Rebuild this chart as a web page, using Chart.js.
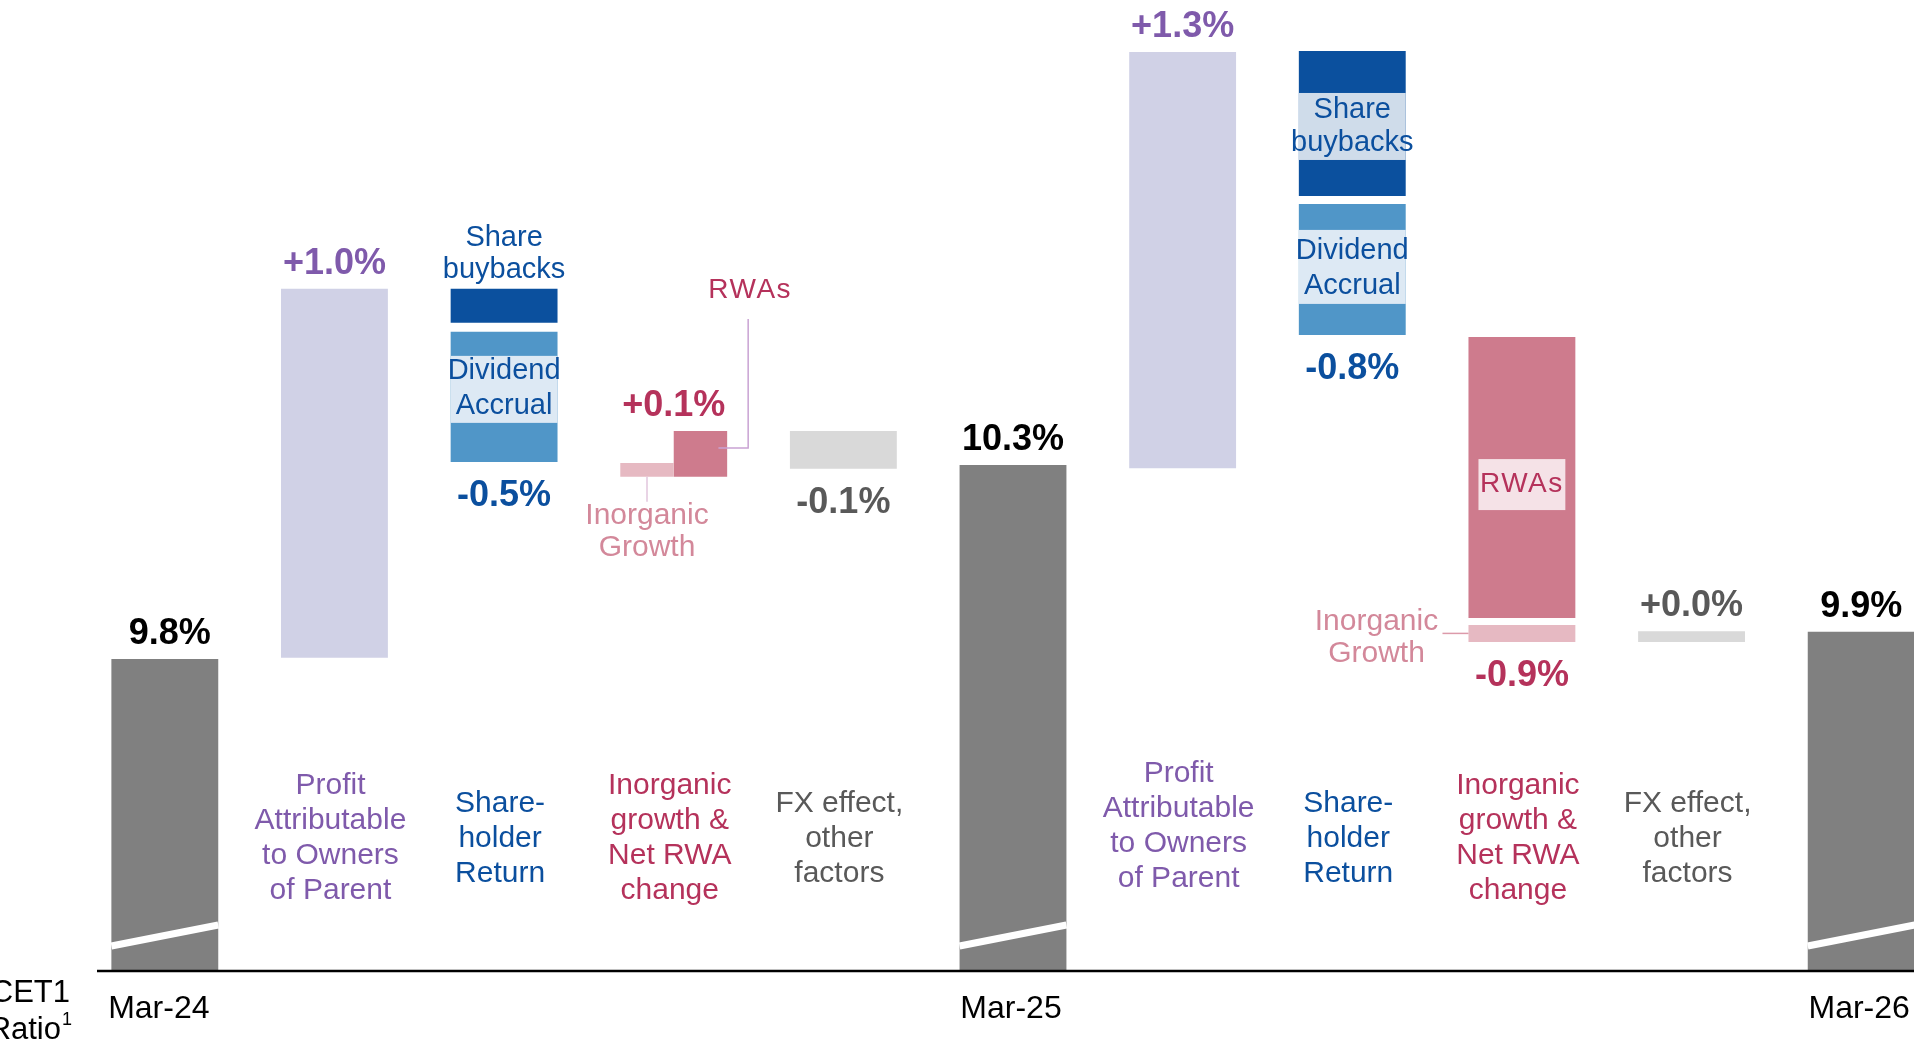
<!DOCTYPE html>
<html>
<head>
<meta charset="utf-8">
<title>CET1 Ratio walk</title>
<script src="https://cdn.jsdelivr.net/npm/chart.js@4.4.1/dist/chart.umd.min.js"></script>
<style>
  html, body { margin: 0; padding: 0; background: #fff; overflow: hidden; }
  #wrap { position: relative; width: 1946px; height: 1044px; }
</style>
</head>
<body>
<div id="wrap"><canvas id="cet1-chart"></canvas></div>
<script>
// CET1 ratio waterfall Mar-24 -> Mar-25 -> Mar-26 (axis is broken, floor 8.9%)

const categories = ['Mar-24', 'Profit FY25', 'Shareholder FY25', 'RWA FY25', 'FX FY25',
                    'Mar-25', 'Profit FY26', 'Shareholder FY26', 'RWA FY26', 'FX FY26', 'Mar-26'];
const periodLabels = ['Mar-24', '', '', '', '', 'Mar-25', '', '', '', '', 'Mar-26'];
const changeLabels = ['9.8%', '+1.0%', '-0.5%', '+0.1%', '-0.1%', '10.3%', '+1.3%', '-0.8%', '-0.9%', '+0.0%', '9.9%'];
const stepNames = [
    [], ['Profit', 'Attributable', 'to Owners', 'of Parent'], ['Share-', 'holder', 'Return'],
    ['Inorganic', 'growth &', 'Net RWA', 'change'], ['FX effect,', 'other', 'factors'],
    [], ['Profit', 'Attributable', 'to Owners', 'of Parent'], ['Share-', 'holder', 'Return'],
    ['Inorganic', 'growth &', 'Net RWA', 'change'], ['FX effect,', 'other', 'factors'], []
];

const AXIS_FLOOR = 8.9;
const ratioBars       = [[AXIS_FLOOR, 9.80], null, null, null, null, [AXIS_FLOOR, 10.359], null, null, null, null, [AXIS_FLOOR, 9.878]];
const profitBars      = [null, [9.803, 10.867], null, null, null, null, [10.350, 11.550], null, null, null, null];
const buybackBars     = [null, null, [10.769, 10.867], null, null, null, null, [11.135, 11.553], null, null, null];
const dividendBars    = [null, null, [10.368, 10.743], null, null, null, null, [10.734, 11.112], null, null, null];
const inorganicBars25 = [null, null, null, [10.325, 10.365], null, null, null, null, null, null, null];
const rwaBars25       = [null, null, null, [10.325, 10.457], null, null, null, null, null, null, null];
const rwaBars26       = [null, null, null, null, null, null, null, null, [9.918, 10.728], null, null];
const inorganicBars26 = [null, null, null, null, null, null, null, null, [9.849, 9.898], null, null];
const fxBars          = [null, null, null, null, [10.348, 10.457], null, null, null, null, [9.849, 9.880], null];

const fontFace = "'Liberation Sans', Arial, sans-serif";
const PURPLE = '#7f5aab';
const BLUE = '#0b4f9e';
const CRIMSON = '#b5325b';
const PINK_TEXT = '#d3889a';
const GREY_TEXT = '#595959';

function bars(label, data, color, stack) {
    return { label, data, backgroundColor: color, stack, borderWidth: 0, skipNull: true,
             categoryPercentage: 0.63, barPercentage: 1.0 };
}

function drawText(ctx, str, x, y, size, color, bold, align, spacing) {
    ctx.font = (bold ? 'bold ' : '') + size + 'px ' + fontFace;
    ctx.fillStyle = color;
    ctx.textAlign = align || 'center';
    ctx.textBaseline = 'middle';
    ctx.letterSpacing = spacing || '0px';
    ctx.fillText(str, x, y);
    ctx.letterSpacing = '0px';
}

const annotations = {
    id: 'annotations',
    afterDatasetsDraw(chart) {
        const { ctx, chartArea, scales: { x } } = chart;
        const el = (ds, i) => chart.getDatasetMeta(ds).data[i].getProps(['x', 'y', 'base', 'width'], true);
        const box = (ds, i) => {
            const b = el(ds, i);
            return { left: b.x - b.width / 2, right: b.x + b.width / 2, cx: b.x,
                     top: Math.min(b.y, b.base), bottom: Math.max(b.y, b.base) };
        };
        ctx.save();

        // axis-break marks on the ratio bars
        ctx.strokeStyle = '#fff';
        ctx.lineWidth = 7;
        [0, 5, 10].forEach(i => {
            const b = box(0, i);
            ctx.beginPath();
            ctx.moveTo(b.left, b.bottom - 25);
            ctx.lineTo(b.right, b.bottom - 46);
            ctx.stroke();
        });

        // baseline
        ctx.strokeStyle = '#000';
        ctx.lineWidth = 2.5;
        ctx.beginPath();
        ctx.moveTo(97, chartArea.bottom);
        ctx.lineTo(chart.width, chartArea.bottom);
        ctx.stroke();

        // labels inside/next to shareholder return bars
        let b = box(2, 2);
        drawText(ctx, 'Share', b.cx, b.top - 51, 29, BLUE);
        drawText(ctx, 'buybacks', b.cx, b.top - 19, 29, BLUE);
        b = box(3, 2);
        ctx.fillStyle = '#dde9f4';
        ctx.fillRect(b.left, b.top + 24, b.right - b.left, 67);
        drawText(ctx, 'Dividend', b.cx, b.top + 39, 29, BLUE);
        drawText(ctx, 'Accrual', b.cx, b.top + 74, 29, BLUE);

        b = box(2, 7);
        ctx.fillStyle = '#cfdcea';
        ctx.fillRect(b.left, b.top + 42, b.right - b.left, 67);
        drawText(ctx, 'Share', b.cx, b.top + 59, 29, BLUE);
        drawText(ctx, 'buybacks', b.cx, b.top + 92, 29, BLUE);
        b = box(3, 7);
        ctx.fillStyle = '#dde9f4';
        ctx.fillRect(b.left, b.top + 26, b.right - b.left, 74);
        drawText(ctx, 'Dividend', b.cx, b.top + 47, 29, BLUE);
        drawText(ctx, 'Accrual', b.cx, b.top + 82, 29, BLUE);

        // RWA / inorganic call-outs, first year
        b = box(5, 3);
        ctx.strokeStyle = '#c9a3d3';
        ctx.lineWidth = 1.5;
        ctx.beginPath();
        ctx.moveTo(b.right + 21, b.top - 112);
        ctx.lineTo(b.right + 21, b.top + 17);
        ctx.lineTo(b.cx + 18, b.top + 17);
        ctx.stroke();
        drawText(ctx, 'RWAs', b.right + 23, b.top - 141, 28, CRIMSON, false, 'center', '1.5px');
        b = box(4, 3);
        ctx.strokeStyle = '#e2c6dd';
        ctx.beginPath();
        ctx.moveTo(b.cx, b.bottom);
        ctx.lineTo(b.cx, b.bottom + 25);
        ctx.stroke();
        drawText(ctx, 'Inorganic', b.cx, b.bottom + 39, 30, PINK_TEXT);
        drawText(ctx, 'Growth', b.cx, b.bottom + 71, 30, PINK_TEXT);

        // RWA / inorganic call-outs, second year
        b = box(6, 8);
        ctx.fillStyle = '#f5e2e7';
        ctx.fillRect(b.left + 10, b.top + 122, b.right - b.left - 20, 51);
        drawText(ctx, 'RWAs', b.cx, b.top + 147, 28, CRIMSON, false, 'center', '1.5px');
        b = box(7, 8);
        const mid = (b.top + b.bottom) / 2;
        ctx.strokeStyle = '#dc9aaa';
        ctx.beginPath();
        ctx.moveTo(b.left - 26, mid);
        ctx.lineTo(b.left, mid);
        ctx.stroke();
        drawText(ctx, 'Inorganic', b.left - 92, mid - 12, 30, PINK_TEXT);
        drawText(ctx, 'Growth', b.left - 92, mid + 20, 30, PINK_TEXT);

        // value labels
        const valueColors = ['#000', PURPLE, BLUE, CRIMSON, GREY_TEXT, '#000', PURPLE, BLUE, CRIMSON, GREY_TEXT, '#000'];
        changeLabels.forEach((lab, i) => {
            let top = Infinity, bottom = -Infinity;
            chart.data.datasets.forEach((ds, d) => {
                if (ds.data[i]) {
                    const bb = box(d, i);
                    top = Math.min(top, bb.top);
                    bottom = Math.max(bottom, bb.bottom);
                }
            });
            const cx = x.getPixelForValue(i);
            const y = lab.startsWith('-') ? bottom + 34 : top - 25;
            drawText(ctx, lab, cx + (i === 0 ? 5 : 0), y, 36, valueColors[i], true);
        });

        // step names
        const nameColors = [null, PURPLE, BLUE, CRIMSON, GREY_TEXT, null, PURPLE, BLUE, CRIMSON, GREY_TEXT, null];
        stepNames.forEach((lines, i) => {
            if (!lines.length) return;
            const cx = x.getPixelForValue(i) - 4;
            let y0 = lines.length === 4 ? 786 : 804;
            if (i === 6) y0 = 774;
            lines.forEach((ln, k) => drawText(ctx, ln, cx, y0 + k * 34.8, 30, nameColors[i]));
        });

        // period labels under the axis
        periodLabels.forEach((lab, i) => {
            if (lab) drawText(ctx, lab, x.getPixelForValue(i) - (i === 0 ? 6 : 2), 1009, 32, '#000');
        });
        drawText(ctx, 'CET1', 70, 993, 31, '#000', false, 'right');
        drawText(ctx, 'Ratio', 61, 1030, 31, '#000', false, 'right');
        drawText(ctx, '1', 62, 1020, 18, '#000', false, 'left');

        ctx.restore();
    }
};

new Chart(document.getElementById('cet1-chart'), {
    type: 'bar',
    data: {
        labels: categories,
        datasets: [
            bars('CET1 ratio', ratioBars, '#808080', 'ratio'),
            bars('Profit', profitBars, '#d0d1e6', 'profit'),
            bars('Share buybacks', buybackBars, '#0b509e', 'shr'),
            bars('Dividend accrual', dividendBars, '#5096c8', 'shr'),
            bars('Inorganic growth', inorganicBars25, '#e6b9c2', 'inorg25'),
            bars('RWAs', rwaBars25, '#ce7b8d', 'rwa25'),
            bars('RWAs', rwaBars26, '#ce7b8d', 'net26'),
            bars('Inorganic growth', inorganicBars26, '#e6b9c2', 'net26'),
            bars('FX effect, other', fxBars, '#d9d9d9', 'fx')
        ]
    },
    options: {
        responsive: true,
        maintainAspectRatio: false,
        animation: false,
        layout: { padding: { left: 80, right: 0, top: 0, bottom: 73 } },
        plugins: { legend: { display: false }, tooltip: { enabled: false } },
        scales: {
            x: { display: false, grid: { display: false } },
            y: { display: false, stacked: false, min: AXIS_FLOOR, max: 11.7 }
        }
    },
    plugins: [annotations]
});
</script>
</body>
</html>
